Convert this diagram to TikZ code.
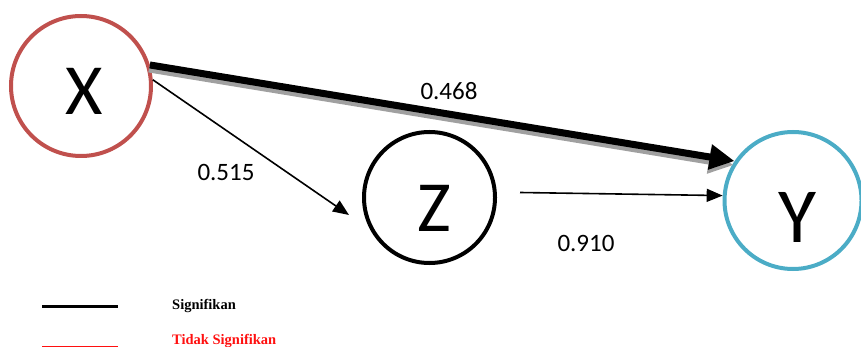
\documentclass[tikz,border=0pt]{standalone}
\usepackage{fontspec}
\setmainfont{Carlito}
\newfontfamily\legendfont{Liberation Serif}
\usetikzlibrary{arrows.meta}
\definecolor{xred}{HTML}{C0504D}
\definecolor{yteal}{HTML}{4BACC6}
\definecolor{shadowgray}{HTML}{A0A0A0}
\definecolor{legred}{HTML}{FF1010}
\tikzset{
  varcircle/.style={circle, draw, line width=4pt, inner sep=0pt},
  varletter/.style={inner sep=0pt, font=\fontsize{72}{72}\selectfont},
  coef/.style={inner sep=0pt, font=\fontsize{25}{25}\selectfont},
  thinarrow/.style={line width=1.6pt, -{Triangle[length=16pt,width=13pt]}},
  thickarrow/.style={line width=7pt, -{Triangle[length=25pt,width=24pt]}},
  legtext/.style={inner sep=0pt, anchor=base west, font=\legendfont\bfseries\fontsize{14.5}{14.5}\selectfont}
}
\begin{document}
\begin{tikzpicture}[x=1pt,y=-1pt]
\useasboundingbox (0,0) rectangle (861,347);
% circles
\node[varcircle, draw=xred, minimum size=140pt] (X) at (81,86) {};
\node[varcircle, draw=black, minimum size=131pt] (Z) at (429.5,197.5) {};
\node[varcircle, draw=yteal, minimum size=137pt] (Y) at (793,200.5) {};
% letters
\node[varletter] (lx) at (84,91) {X};
\node[varletter] (lz) at (434,208) {Z};
\node[varletter, font=\fontsize{78}{78}\selectfont] (ly) at (797,217) {Y};
% free ends
\coordinate (zin) at (349,215);
\coordinate (zout) at (520,192.5);
% thick arrow with shadow
\draw[thickarrow, shadowgray] ([xshift=-1pt,yshift=-4pt]X.17) -- ([xshift=-1pt,yshift=-4pt]Y.146);
\draw[thickarrow, black] (X.17) -- (Y.146);
% thin arrows
\draw[thinarrow] (X.5) -- (zin);
\draw[thinarrow] (zout) -- (Y.176);
% coefficients
\node[coef] (c1) at (449,91) {0.468};
\node[coef] (c2) at (226,172) {0.515};
\node[coef] (c3) at (586,243) {0.910};
% legend
\coordinate (l1a) at (42,306);
\coordinate (l1b) at (118,306);
\draw[line width=3pt] (l1a) -- (l1b);
\coordinate (l2a) at (42,346);
\coordinate (l2b) at (118,346);
\draw[line width=1pt, legred] (l2a) -- (l2b);
\node[legtext] (t1) at (172,309.5) {Signifikan};
\node[legtext, text=legred] (t2) at (172,344) {Tidak Signifikan};
\end{tikzpicture}
\end{document}
